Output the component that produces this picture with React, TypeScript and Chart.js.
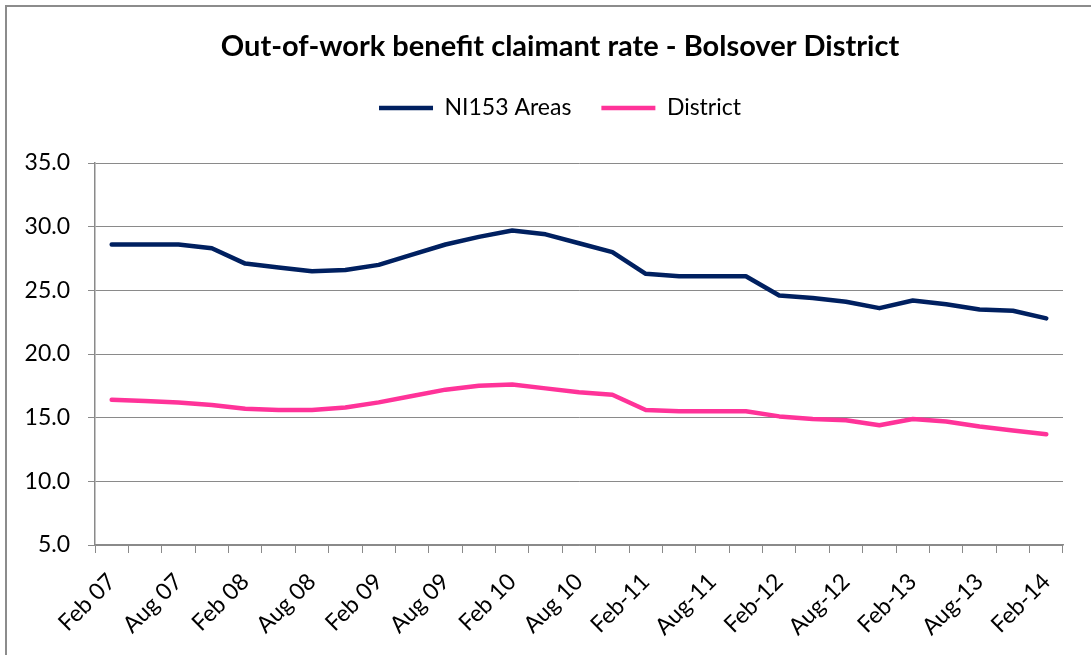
import React, { useEffect, useRef } from "react";
import { Chart, registerables } from "chart.js";

Chart.register(...registerables);

const categories = [
  "Feb 07", "May 07", "Aug 07", "Nov 07",
  "Feb 08", "May 08", "Aug 08", "Nov 08",
  "Feb 09", "May 09", "Aug 09", "Nov 09",
  "Feb 10", "May 10", "Aug 10", "Nov 10",
  "Feb-11", "May-11", "Aug-11", "Nov-11",
  "Feb-12", "May-12", "Aug-12", "Nov-12",
  "Feb-13", "May-13", "Aug-13", "Nov-13",
  "Feb-14",
];

const ni153Areas = [
  28.6, 28.6, 28.6, 28.3,
  27.1, 26.8, 26.5, 26.6,
  27.0, 27.8, 28.6, 29.2,
  29.7, 29.4, 28.7, 28.0,
  26.3, 26.1, 26.1, 26.1,
  24.6, 24.4, 24.1, 23.6,
  24.2, 23.9, 23.5, 23.4,
  22.8,
];

const district = [
  16.4, 16.3, 16.2, 16.0,
  15.7, 15.6, 15.6, 15.8,
  16.2, 16.7, 17.2, 17.5,
  17.6, 17.3, 17.0, 16.8,
  15.6, 15.5, 15.5, 15.5,
  15.1, 14.9, 14.8, 14.4,
  14.9, 14.7, 14.3, 14.0,
  13.7,
];

const yTicks = [5, 10, 15, 20, 25, 30, 35];
const labelEvery = 2;

const FONT = "Lato, 'Open Sans', sans-serif";
const GRID = "#8a8a8a";
const CANVAS_W = 1130;
const CANVAS_H = 655;

export default function App() {
  const ref = useRef<HTMLCanvasElement | null>(null);

  useEffect(() => {
    if (!ref.current) return;
    const chart = new Chart(ref.current, {
      type: "line",
      data: {
        labels: categories,
        datasets: [
          {
            label: "NI153 Areas",
            data: ni153Areas,
            borderColor: "#002060",
            backgroundColor: "#002060",
            borderWidth: 4.5,
            pointRadius: 0,
            tension: 0,
            borderCapStyle: "round",
            borderJoinStyle: "round",
          },
          {
            label: "District",
            data: district,
            borderColor: "#FF3399",
            backgroundColor: "#FF3399",
            borderWidth: 4.5,
            pointRadius: 0,
            tension: 0,
            borderCapStyle: "round",
            borderJoinStyle: "round",
          },
        ],
      },
      options: {
        animation: false,
        responsive: false,
        maintainAspectRatio: false,
        events: [],
        layout: { padding: { top: 0, right: 10, bottom: 0, left: 0 } },
        plugins: {
          title: {
            display: true,
            text: "Out-of-work benefit claimant rate - Bolsover District",
            color: "#000",
            font: { family: FONT, size: 29, weight: "bold", lineHeight: 1.2 },
            padding: { top: 29.6, bottom: 2.1 },
          },
          legend: {
            display: true,
            position: "top",
            labels: {
              usePointStyle: true,
              pointStyle: "line",
              pointStyleWidth: 54,
              color: "#000",
              font: { family: FONT, size: 23 },
              padding: 30,
            },
          },
          tooltip: { enabled: false },
        },
        scales: {
          x: {
            offset: true,
            grid: {
              offset: true,
              drawOnChartArea: false,
              drawTicks: true,
              tickLength: 8,
              color: GRID,
              tickColor: GRID,
              lineWidth: 1,
            },
            border: { display: true, color: GRID, width: 1.5 },
            ticks: {
              autoSkip: false,
              maxRotation: 45,
              minRotation: 45,
              padding: 15,
              color: "#000",
              font: { family: FONT, size: 23 },
              callback: (_v: any, i: number) => (i % labelEvery === 0 ? categories[i] : ""),
            },
            afterFit: (s: any) => {
              s.height = 110;
            },
          },
          xSpacer: {
            type: "linear",
            axis: "x",
            position: "top",
            display: true,
            grid: { display: false },
            border: { display: false },
            ticks: { display: false },
            afterFit: (s: any) => {
              s.height = 33.5;
            },
          },
          y: {
            min: yTicks[0],
            max: yTicks[yTicks.length - 1],
            afterBuildTicks: (s: any) => {
              s.ticks = yTicks.map((v) => ({ value: v }));
            },
            grid: {
              color: GRID,
              tickColor: GRID,
              tickLength: 7,
              lineWidth: 1,
            },
            border: { display: true, color: GRID, width: 1.5 },
            ticks: {
              padding: 18,
              color: "#000",
              font: { family: FONT, size: 23 },
              callback: (v: any) => Number(v).toFixed(1),
            },
            afterFit: (s: any) => {
              s.width = 95;
            },
          },
          ySpacer: {
            type: "linear",
            axis: "y",
            position: "right",
            display: true,
            grid: { display: false },
            border: { display: false },
            ticks: { display: false },
            afterFit: (s: any) => {
              s.width = 57;
            },
          },
        },
      } as any,
    });
    return () => chart.destroy();
  }, []);

  return (
    <div
      style={{
        position: "fixed",
        left: 0,
        top: 0,
        width: 1091,
        height: 655,
        overflow: "hidden",
        background: "#fff",
      }}
    >
      <div
        style={{
          position: "absolute",
          left: 5,
          top: 5,
          width: 1200,
          height: 1000,
          borderLeft: "2px solid #8c8c8c",
          borderTop: "2px solid #8c8c8c",
        }}
      />
      <canvas
        ref={ref}
        width={CANVAS_W}
        height={CANVAS_H}
        style={{ position: "absolute", left: 0, top: 0, width: CANVAS_W, height: CANVAS_H }}
      />
    </div>
  );
}
